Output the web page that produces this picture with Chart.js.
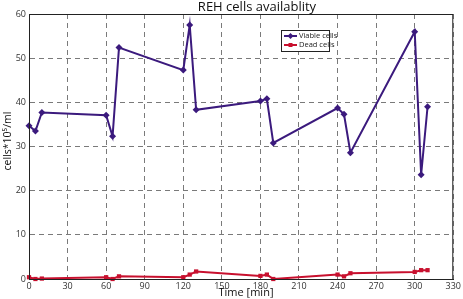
<!DOCTYPE html>
<html lang="en">
<head>
    <meta charset="UTF-8">
    <title>REH cells availablity</title>
    <script src="https://cdn.jsdelivr.net/npm/chart.js"></script>
    <style>
        html, body { margin: 0; padding: 0; background: #fff; }
        #wrap { width: 463px; height: 299px; }
    </style>
</head>
<body>
    <div id="wrap"><canvas id="chart" width="463" height="299"></canvas></div>
    <script>
        // time points in minutes
        const times = [0, 5, 10, 60, 65, 70, 120, 125, 130, 180, 185, 190, 240, 245, 250, 300, 305, 310];
        const viableCells = [34.7, 33.5, 37.7, 37.1, 32.3, 52.4, 47.3, 57.5, 38.3, 40.3, 40.8, 30.8, 38.7, 37.3, 28.6, 56.0, 23.6, 39.0];
        const deadCells = [0.4, 0.0, 0.1, 0.4, 0.0, 0.6, 0.4, 1.0, 1.7, 0.7, 1.0, 0.0, 1.0, 0.6, 1.3, 1.6, 2.0, 2.0];
        const xTicks = [0, 30, 60, 90, 120, 150, 180, 210, 240, 270, 300, 330];
        const yTicks = [0, 10, 20, 30, 40, 50, 60];

        const purple = '#3b1a7d';
        const red = '#c8102e';
        const fontFam = '"Open Sans", sans-serif';

        const toPoints = vals => vals.map((v, i) => ({ x: times[i], y: v }));

        // titles, box and legend drawn by hand (matlab look)
        const decor = {
            id: 'decor',
            afterDraw(chart) {
                const { ctx, chartArea: a } = chart;
                ctx.save();
                ctx.setLineDash([]);
                ctx.strokeStyle = '#222';
                ctx.lineWidth = 1;
                ctx.strokeRect(a.left + 0.5, a.top + 0.5, a.right - a.left - 1, a.bottom - a.top);

                ctx.fillStyle = '#111';
                ctx.textAlign = 'center';
                ctx.textBaseline = 'middle';
                ctx.font = '13px ' + fontFam;
                ctx.fillText('REH cells availablity', 257, 7);
                ctx.font = '11px ' + fontFam;
                ctx.fillText('Time [min]', 246, 293);

                ctx.font = '10.5px ' + fontFam;
                ctx.translate(8, 141);
                ctx.rotate(-Math.PI / 2);
                ctx.fillText('cells*10\u2075/ml', 0, 0);
                ctx.restore();

                // legend
                const lx = a.left + 252, ly = a.top + 16;
                ctx.save();
                ctx.fillStyle = '#fff';
                ctx.fillRect(lx, ly, 48, 21);
                ctx.strokeStyle = '#222';
                ctx.lineWidth = 1;
                ctx.strokeRect(lx + 0.5, ly + 0.5, 48, 21);
                ctx.font = '7.5px ' + fontFam;
                ctx.textAlign = 'left';
                ctx.textBaseline = 'middle';
                chart.data.datasets.forEach((ds, i) => {
                    const yy = ly + 6 + i * 9;
                    ctx.strokeStyle = ds.borderColor;
                    ctx.lineWidth = 2;
                    ctx.beginPath();
                    ctx.moveTo(lx + 3, yy);
                    ctx.lineTo(lx + 16, yy);
                    ctx.stroke();
                    ctx.fillStyle = ds.borderColor;
                    ctx.beginPath();
                    if (ds.pointStyle === 'rectRot') {
                        ctx.moveTo(lx + 9.5, yy - 3);
                        ctx.lineTo(lx + 12.5, yy);
                        ctx.lineTo(lx + 9.5, yy + 3);
                        ctx.lineTo(lx + 6.5, yy);
                    } else {
                        ctx.rect(lx + 7.5, yy - 2, 4, 4);
                    }
                    ctx.fill();
                    ctx.fillStyle = '#222';
                    ctx.fillText(ds.label, lx + 18, yy);
                });
                ctx.restore();
            }
        };

        const gridOpts = {
            color: '#7a7a7a',
            lineWidth: 1,
            drawTicks: false
        };

        new Chart(document.getElementById('chart'), {
            type: 'line',
            data: {
                datasets: [
                    {
                        label: 'Viable cells',
                        data: toPoints(viableCells),
                        borderColor: purple,
                        backgroundColor: purple,
                        borderWidth: 2,
                        pointStyle: 'rectRot',
                        pointRadius: 3.5,
                        pointBorderWidth: 0,
                        tension: 0,
                        clip: false
                    },
                    {
                        label: 'Dead cells',
                        data: toPoints(deadCells),
                        borderColor: red,
                        backgroundColor: red,
                        borderWidth: 2,
                        pointStyle: 'rect',
                        pointRadius: 3,
                        pointBorderWidth: 0,
                        tension: 0,
                        clip: false
                    }
                ]
            },
            options: {
                responsive: false,
                animation: false,
                layout: { padding: { top: 14, right: 8, left: 0, bottom: 0 } },
                plugins: {
                    legend: { display: false },
                    title: { display: false },
                    tooltip: { enabled: false }
                },
                scales: {
                    x: {
                        type: 'linear',
                        min: 0,
                        max: 330,
                        afterFit: s => { s.height = 20; },
                        afterBuildTicks: s => { s.ticks = xTicks.map(v => ({ value: v })); },
                        grid: gridOpts,
                        border: { display: true, color: '#222', dash: [5, 4] },
                        ticks: { color: '#333', padding: 2, maxRotation: 0, font: { size: 9, family: fontFam } }
                    },
                    y: {
                        min: 0,
                        max: 60,
                        afterFit: s => { s.width = 29; },
                        afterBuildTicks: s => { s.ticks = yTicks.map(v => ({ value: v })); },
                        grid: gridOpts,
                        border: { display: true, color: '#222', dash: [5, 4] },
                        ticks: { color: '#333', padding: 3, font: { size: 9, family: fontFam } }
                    }
                }
            },
            plugins: [decor]
        });
    </script>
</body>
</html>
